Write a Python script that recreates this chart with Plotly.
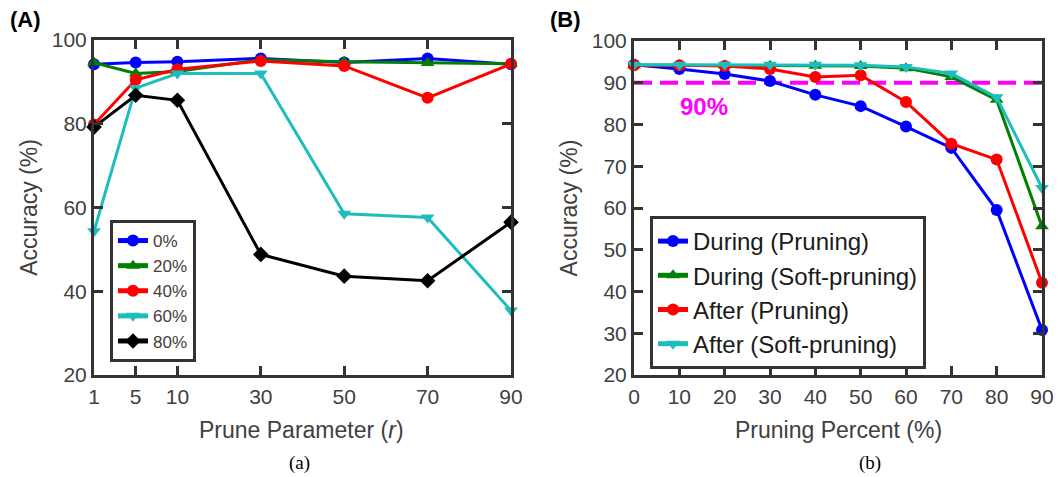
import plotly.graph_objects as go

# ---------- Data: panel (A) ----------
r_labels = ["1", "5", "10", "30", "50", "70", "90"]
r_pos = [0, 0.5, 1, 2, 3, 4, 5]
acc_0 = [94.2, 94.6, 94.8, 95.6, 94.6, 95.6, 94.2]
acc_20 = [94.6, 92.0, 92.5, 95.3, 94.8, 94.5, 94.3]
acc_40 = [79.8, 90.5, 93.0, 95.0, 93.8, 86.2, 94.3]
acc_60 = [54.3, 88.5, 92.0, 92.0, 58.5, 57.6, 35.4]
acc_80 = [79.2, 86.8, 85.6, 48.8, 43.6, 42.5, 56.5]
series_a = [("0%", acc_0, "#0000FF", "circle"),
            ("20%", acc_20, "#008000", "triangle-up"),
            ("40%", acc_40, "#FF0000", "circle"),
            ("60%", acc_60, "#1DBDBD", "triangle-down"),
            ("80%", acc_80, "#000000", "diamond")]

# ---------- Data: panel (B) ----------
pct = [0, 10, 20, 30, 40, 50, 60, 70, 80, 90]
during_pruning = [94.3, 93.3, 92.1, 90.4, 87.1, 84.4, 79.5, 74.4, 59.5, 30.8]
during_soft = [94.2, 94.2, 94.2, 94.1, 94.1, 94.0, 93.5, 91.4, 85.9, 55.6]
after_pruning = [94.2, 94.2, 94.0, 93.3, 91.4, 91.8, 85.4, 75.4, 71.6, 42.1]
after_soft = [94.3, 94.3, 94.3, 94.3, 94.3, 94.2, 93.8, 92.2, 86.5, 64.8]
series_b = [("During (Pruning)", during_pruning, "#0000FF", "circle"),
            ("During (Soft-pruning)", during_soft, "#008000", "triangle-up"),
            ("After (Pruning)", after_pruning, "#FF0000", "circle"),
            ("After (Soft-pruning)", after_soft, "#1DBDBD", "triangle-down")]
threshold = 90

W, H = 1060, 477
FONT = "Liberation Sans, Arial, sans-serif"
AX = "#333333"
TXT = "#404040"

def px_x(p):
    return p / W

def px_y(p):
    return (H - p) / H

fig = go.Figure()

for name, vals, col, sym in series_a:
    fig.add_trace(go.Scatter(
        x=r_pos, y=vals, name=name, mode="lines+markers",
        line=dict(color=col, width=3),
        marker=dict(symbol=sym, size=12, color=col),
        xaxis="x", yaxis="y", legend="legend", cliponaxis=False))

fig.add_trace(go.Scatter(
    x=[pct[0], pct[-1]], y=[threshold, threshold], mode="lines",
    line=dict(color="#FF00FF", width=4, dash="18px,8px"),
    showlegend=False, xaxis="x2", yaxis="y2", hoverinfo="skip"))

for name, vals, col, sym in series_b:
    fig.add_trace(go.Scatter(
        x=pct, y=vals, name=name, mode="lines+markers",
        line=dict(color=col, width=3),
        marker=dict(symbol=sym, size=12, color=col),
        xaxis="x2", yaxis="y2", legend="legend2", cliponaxis=False))

axis_common = dict(showline=True, linecolor=AX, linewidth=3, mirror="ticks",
                   ticks="inside", ticklen=9, tickwidth=3, tickcolor=AX,
                   showgrid=False, zeroline=False, automargin=False,
                   tickfont=dict(family=FONT, size=21, color=TXT),
                   title_font=dict(family=FONT, size=23, color=TXT))

fig.update_layout(
    width=W, height=H, margin=dict(l=0, r=0, t=0, b=0),
    paper_bgcolor="white", plot_bgcolor="white",
    xaxis=dict(domain=[px_x(94), px_x(511)], range=[0, 5],
               tickvals=r_pos, ticktext=r_labels, anchor="y",
               ticklabelstandoff=1, **axis_common),
    yaxis=dict(domain=[px_y(375), px_y(40)], range=[20, 100],
               tickvals=[20, 40, 60, 80, 100], anchor="x",
               title=dict(text="Accuracy (%)", standoff=8),
               **axis_common),
    xaxis2=dict(domain=[px_x(634), px_x(1042)], range=[0, 90],
                tickvals=pct, anchor="y2",
                ticklabelstandoff=1, **axis_common),
    yaxis2=dict(domain=[px_y(375), px_y(41)], range=[20, 100],
                tickvals=[20, 30, 40, 50, 60, 70, 80, 90, 100], anchor="x2",
                title=dict(text="Accuracy (%)", standoff=8),
                **axis_common),
    legend=dict(x=px_x(110), y=px_y(220), xanchor="left", yanchor="top",
                bgcolor="white", bordercolor=AX, borderwidth=3,
                font=dict(family=FONT, size=17, color=TXT),
                tracegroupgap=0, itemsizing="constant", itemwidth=30),
    legend2=dict(x=px_x(650), y=px_y(216), xanchor="left", yanchor="top",
                 bgcolor="white", bordercolor=AX, borderwidth=3,
                 font=dict(family=FONT, size=24, color="#1a1a1a"),
                 tracegroupgap=0, itemsizing="constant", itemwidth=30),
    showlegend=True,
)

# x-axis titles
fig.add_annotation(text="Prune Parameter (<i>r</i>)", x=px_x(301), y=px_y(430),
                   xref="paper", yref="paper", xanchor="center", yanchor="middle",
                   showarrow=False, font=dict(family=FONT, size=23, color=TXT))
fig.add_annotation(text="Pruning Percent (%)", x=px_x(838), y=px_y(430),
                   xref="paper", yref="paper", xanchor="center", yanchor="middle",
                   showarrow=False, font=dict(family=FONT, size=23, color=TXT))

fig.add_annotation(text="<b>90%</b>", x=15.5, y=84.3, xref="x2", yref="y2",
                   showarrow=False, font=dict(family=FONT, size=24, color="#FF00FF"))
fig.add_annotation(text="<b>(A)</b>", x=px_x(8), y=px_y(20), xref="paper", yref="paper",
                   xanchor="left", yanchor="middle", showarrow=False,
                   font=dict(family=FONT, size=22, color="black"))
fig.add_annotation(text="<b>(B)</b>", x=px_x(548), y=px_y(20), xref="paper", yref="paper",
                   xanchor="left", yanchor="middle", showarrow=False,
                   font=dict(family=FONT, size=22, color="black"))
fig.add_annotation(text="(a)", x=px_x(299), y=px_y(463), xref="paper", yref="paper",
                   xanchor="center", yanchor="middle", showarrow=False,
                   font=dict(family="Liberation Serif, Times New Roman, serif", size=19, color="black"))
fig.add_annotation(text="(b)", x=px_x(870), y=px_y(463), xref="paper", yref="paper",
                   xanchor="center", yanchor="middle", showarrow=False,
                   font=dict(family="Liberation Serif, Times New Roman, serif", size=19, color="black"))

fig.write_html("out.html")
